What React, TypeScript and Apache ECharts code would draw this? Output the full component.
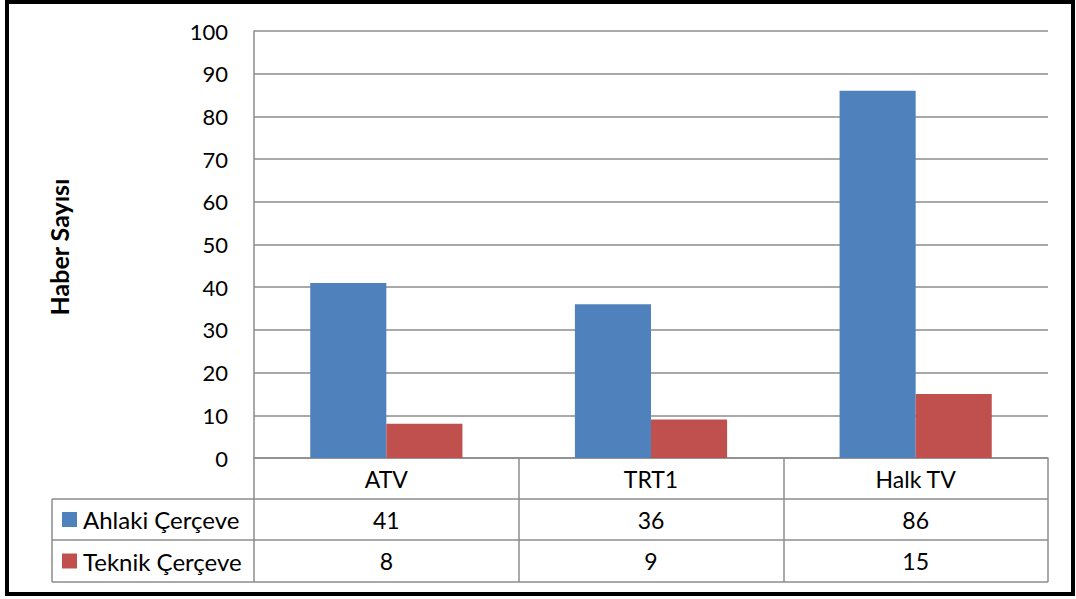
import React, { useEffect, useRef } from "react";
import * as echarts from "echarts";

const categories = ["ATV", "TRT1", "Halk TV"];
const seriesNames = ["Ahlaki Çerçeve", "Teknik Çerçeve"];
const ahlaki = [41, 36, 86];
const teknik = [8, 9, 15];
const yTitle = "Haber Sayısı";

const colors = ["#4F81BD", "#C0504D"];
const FONT = "Lato, 'Open Sans', sans-serif";
const W = 1076;
const H = 599;
const GL = 254;
const GR = 1048;
const GT = 31;
const GB = 458;
const TABLE_LEFT = 52;
const ROWS = [499, 540, 582];
const GRID_COLOR = "#8c8c8c";

export default function App() {
  const ref = useRef<HTMLDivElement>(null);
  useEffect(() => {
    if (!ref.current) return;
    const chart = echarts.init(ref.current, null, { renderer: "svg" });
    const allData = [ahlaki, teknik];
    const colW = (GR - GL) / categories.length;
    const graphics: any[] = [];
    graphics.push({
      type: "rect",
      shape: { x: 7, y: 2, width: 1066, height: 592 },
      style: { fill: "none", stroke: "#000", lineWidth: 4 },
      z: 100,
    });
    ROWS.forEach((y) => {
      graphics.push({
        type: "line",
        shape: { x1: TABLE_LEFT, y1: y, x2: GR, y2: y },
        style: { stroke: GRID_COLOR, lineWidth: 1.5 },
      });
    });
    graphics.push({
      type: "line",
      shape: { x1: TABLE_LEFT, y1: ROWS[0], x2: TABLE_LEFT, y2: ROWS[2] },
      style: { stroke: GRID_COLOR, lineWidth: 1.5 },
    });
    seriesNames.forEach((name, r) => {
      const y0 = ROWS[r];
      const y1 = ROWS[r + 1];
      const cy = (y0 + y1) / 2;
      graphics.push({
        type: "rect",
        shape: { x: 62, y: cy - 7.5, width: 15, height: 15 },
        style: { fill: colors[r] },
      });
      graphics.push({
        type: "text",
        x: 83,
        y: cy,
        style: {
          text: name,
          font: `24px ${FONT}`,
          fill: "#000",
          verticalAlign: "middle",
          align: "left",
        },
      });
      allData[r].forEach((v, c) => {
        graphics.push({
          type: "text",
          x: GL + colW * (c + 0.5),
          y: cy,
          style: {
            text: String(v),
            font: `23px ${FONT}`,
            fill: "#000",
            verticalAlign: "middle",
            align: "center",
          },
        });
      });
    });
    graphics.push({
      type: "text",
      x: 59,
      y: 247,
      rotation: Math.PI / 2,
      style: {
        text: yTitle,
        font: `bold 25px ${FONT}`,
        fill: "#000",
        align: "center",
        verticalAlign: "middle",
      },
    });

    chart.setOption({
      animation: false,
      backgroundColor: "#fff",
      grid: { left: GL, right: W - GR, top: GT, bottom: H - GB, containLabel: false },
      xAxis: {
        type: "category",
        data: categories,
        boundaryGap: true,
        axisLine: { show: true, lineStyle: { color: GRID_COLOR, width: 1.5 } },
        axisTick: {
          show: true,
          interval: 0,
          length: ROWS[2] - GB,
          lineStyle: { color: GRID_COLOR, width: 1.5 },
        },
        axisLabel: {
          color: "#000",
          fontSize: 23,
          fontFamily: FONT,
          margin: 9,
          interval: 0,
        },
      },
      yAxis: {
        type: "value",
        min: 0,
        max: 100,
        interval: 10,
        axisLine: { show: true, lineStyle: { color: GRID_COLOR, width: 1.5 } },
        axisTick: { show: false },
        axisLabel: { color: "#000", fontSize: 22, fontFamily: FONT, margin: 26 },
        splitLine: { show: true, lineStyle: { color: GRID_COLOR, width: 1.5 } },
      },
      series: seriesNames.map((name, i) => ({
        name,
        type: "bar",
        data: allData[i],
        barGap: "0%",
        barCategoryGap: "42.5%",
        itemStyle: { color: colors[i] },
      })),
      graphic: graphics,
    });
    return () => chart.dispose();
  }, []);
  return (
    <div
      ref={ref}
      style={{ position: "fixed", left: 0, top: 0, width: W, height: H, background: "#fff" }}
    />
  );
}
